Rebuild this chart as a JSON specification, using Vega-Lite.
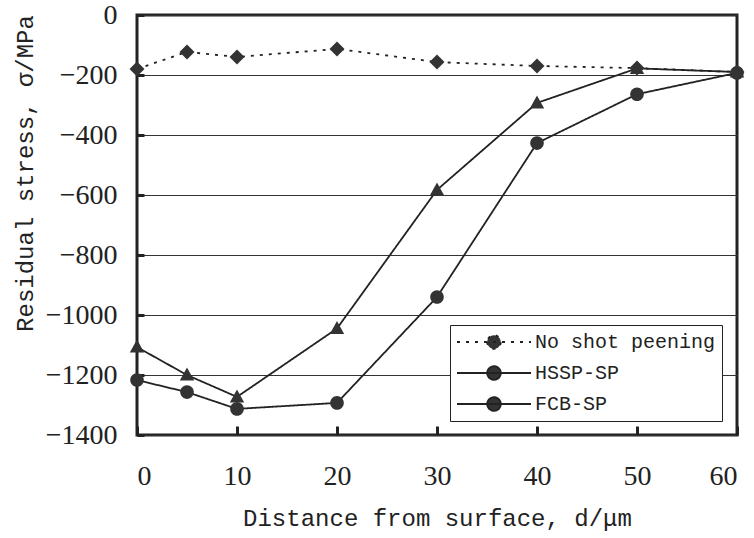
{
  "$schema": "https://vega.github.io/schema/vega-lite/v6.json",
  "width": 600,
  "height": 420,
  "autosize": {"type": "none"},
  "padding": {"left": 137, "top": 15, "right": 17, "bottom": 103},
  "background": "white",
  "data": {
    "values": [
      {"series": "No shot peening", "x": 0, "y": -180},
      {"series": "No shot peening", "x": 5, "y": -123},
      {"series": "No shot peening", "x": 10, "y": -140},
      {"series": "No shot peening", "x": 20, "y": -113},
      {"series": "No shot peening", "x": 30, "y": -157},
      {"series": "No shot peening", "x": 40, "y": -170},
      {"series": "No shot peening", "x": 50, "y": -177},
      {"series": "No shot peening", "x": 60, "y": -190},
      {"series": "HSSP-SP", "x": 0, "y": -1107},
      {"series": "HSSP-SP", "x": 5, "y": -1200},
      {"series": "HSSP-SP", "x": 10, "y": -1273},
      {"series": "HSSP-SP", "x": 20, "y": -1045},
      {"series": "HSSP-SP", "x": 30, "y": -583},
      {"series": "HSSP-SP", "x": 40, "y": -293},
      {"series": "HSSP-SP", "x": 50, "y": -178},
      {"series": "HSSP-SP", "x": 60, "y": -190},
      {"series": "FCB-SP", "x": 0, "y": -1217},
      {"series": "FCB-SP", "x": 5, "y": -1257},
      {"series": "FCB-SP", "x": 10, "y": -1313},
      {"series": "FCB-SP", "x": 20, "y": -1293},
      {"series": "FCB-SP", "x": 30, "y": -940},
      {"series": "FCB-SP", "x": 40, "y": -427},
      {"series": "FCB-SP", "x": 50, "y": -264},
      {"series": "FCB-SP", "x": 60, "y": -193}
    ]
  },
  "encoding": {
    "x": {
      "field": "x", "type": "quantitative",
      "scale": {"domain": [0, 60], "nice": false, "zero": false},
      "axis": {
        "title": "Distance from surface, d/μm",
        "values": [0, 10, 20, 30, 40, 50, 60],
        "format": "d",
        "grid": false,
        "domain": false,
        "tickSize": -9,
        "tickWidth": 3,
        "tickColor": "#222",
        "labelPadding": 36,
        "labelFont": "Times New Roman, Liberation Serif, serif",
        "labelFontSize": 28,
        "labelColor": "#222",
        "titleFont": "Liberation Mono",
        "titleFontSize": 24,
        "titleFontWeight": "normal",
        "titleColor": "#222",
        "titlePadding": 16
      }
    },
    "y": {
      "field": "y", "type": "quantitative",
      "scale": {"domain": [-1400, 0], "nice": false, "zero": false},
      "axis": {
        "title": "Residual stress, σ/MPa",
        "values": [0, -200, -400, -600, -800, -1000, -1200, -1400],
        "format": "d",
        "grid": true,
        "gridColor": "#333",
        "gridWidth": 1,
        "gridOpacity": 1,
        "domain": false,
        "tickSize": -7,
        "tickWidth": 3,
        "tickColor": "#222",
        "labelPadding": 27,
        "labelFont": "Times New Roman, Liberation Serif, serif",
        "labelFontSize": 28,
        "labelColor": "#222",
        "titleFont": "Liberation Mono",
        "titleFontSize": 24,
        "titleFontWeight": "normal",
        "titleColor": "#222",
        "titlePadding": 8,
        "titleY": 158
      }
    }
  },
  "layer": [
    {
      "mark": {"type": "line", "color": "#222", "strokeWidth": 1.8},
      "encoding": {
        "strokeDash": {
          "field": "series", "type": "nominal", "title": null,
          "scale": {"domain": ["No shot peening", "HSSP-SP", "FCB-SP"], "range": [[3, 6], [1, 0], [1, 0]]},
          "legend": {
            "orient": "none",
            "legendX": 313,
            "legendY": 310,
            "padding": 6,
            "strokeColor": "#222",
            "fillColor": "white",
            "labelFont": "Liberation Mono",
            "labelFontSize": 20,
            "labelColor": "#222",
            "labelLimit": 400,
            "symbolSize": 400,
            "symbolOffset": 27,
            "labelOffset": 30,
            "rowPadding": 9,
            "symbolStrokeColor": "#222",
            "symbolStrokeWidth": 1.8,
            "encode": {
              "symbols": {
                "update": {
                  "shape": {
                    "condition": [
                      {"test": "datum.value === 'No shot peening'", "value": "M-3.7,0L3.7,0M0,-0.75L0.75,0L0,0.75L-0.75,0Z"},
                      {"test": "datum.value === 'HSSP-SP'", "value": "M-3.7,0L3.7,0M0,-0.75L0.72,0.55L-0.72,0.55Z"}
                    ],
                    "value": "M-3.7,0L3.7,0M-0.68,0A0.68,0.68 0 1,0 0.68,0A0.68,0.68 0 1,0 -0.68,0Z"
                  },
                  "stroke": {"value": "#222"},
                  "fill": {"value": "#333"},
                  "strokeWidth": {"value": 1.8},
                  "opacity": {"value": 1}
                }
              }
            }
          }
        }
      }
    },
    {
      "transform": [{"filter": "datum.series === 'No shot peening'"}],
      "mark": {"type": "point", "filled": true, "opacity": 1, "color": "#333", "size": 400, "shape": "M0,-0.75L0.75,0L0,0.75L-0.75,0Z"}
    },
    {
      "transform": [{"filter": "datum.series === 'HSSP-SP'"}],
      "mark": {"type": "point", "filled": true, "opacity": 1, "color": "#333", "size": 400, "shape": "M0,-0.75L0.72,0.55L-0.72,0.55Z"}
    },
    {
      "transform": [{"filter": "datum.series === 'FCB-SP'"}],
      "mark": {"type": "point", "filled": true, "opacity": 1, "color": "#333", "size": 400, "shape": "M-0.68,0A0.68,0.68 0 1,0 0.68,0A0.68,0.68 0 1,0 -0.68,0Z"}
    }
  ],
  "config": {
    "font": "Liberation Serif",
    "view": {"stroke": "#222", "strokeWidth": 3}
  }
}
